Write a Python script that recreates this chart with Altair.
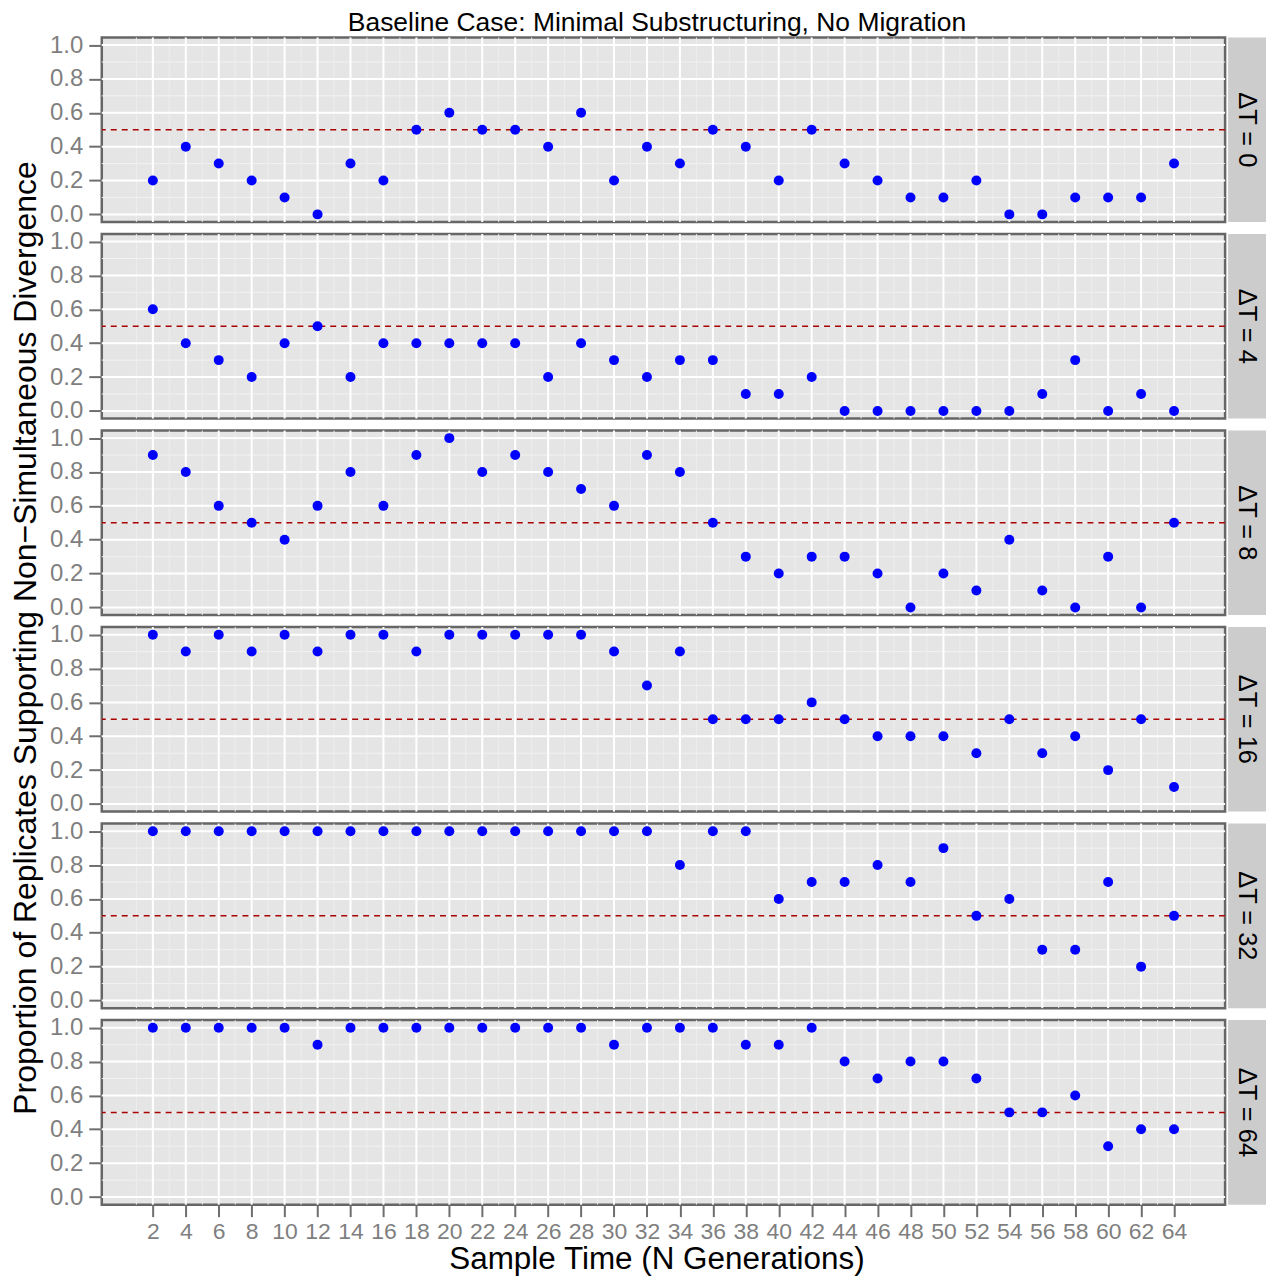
import altair as alt
import pandas as pd

# ---------------- data ----------------
sample_times = list(range(2, 66, 2))
delta_t = [0, 4, 8, 16, 32, 64]

prop_dt0 = [0.2, 0.4, 0.3, 0.2, 0.1, 0.0, 0.3, 0.2, 0.5, 0.6,
            0.5, 0.5, 0.4, 0.6, 0.2, 0.4, 0.3, 0.5, 0.4, 0.2,
            0.5, 0.3, 0.2, 0.1, 0.1, 0.2, 0.0, 0.0, 0.1, 0.1,
            0.1, 0.3]
prop_dt4 = [0.6, 0.4, 0.3, 0.2, 0.4, 0.5, 0.2, 0.4, 0.4, 0.4,
            0.4, 0.4, 0.2, 0.4, 0.3, 0.2, 0.3, 0.3, 0.1, 0.1,
            0.2, 0.0, 0.0, 0.0, 0.0, 0.0, 0.0, 0.1, 0.3, 0.0,
            0.1, 0.0]
prop_dt8 = [0.9, 0.8, 0.6, 0.5, 0.4, 0.6, 0.8, 0.6, 0.9, 1.0,
            0.8, 0.9, 0.8, 0.7, 0.6, 0.9, 0.8, 0.5, 0.3, 0.2,
            0.3, 0.3, 0.2, 0.0, 0.2, 0.1, 0.4, 0.1, 0.0, 0.3,
            0.0, 0.5]
prop_dt16 = [1.0, 0.9, 1.0, 0.9, 1.0, 0.9, 1.0, 1.0, 0.9, 1.0,
             1.0, 1.0, 1.0, 1.0, 0.9, 0.7, 0.9, 0.5, 0.5, 0.5,
             0.6, 0.5, 0.4, 0.4, 0.4, 0.3, 0.5, 0.3, 0.4, 0.2,
             0.5, 0.1]
prop_dt32 = [1.0, 1.0, 1.0, 1.0, 1.0, 1.0, 1.0, 1.0, 1.0, 1.0,
             1.0, 1.0, 1.0, 1.0, 1.0, 1.0, 0.8, 1.0, 1.0, 0.6,
             0.7, 0.7, 0.8, 0.7, 0.9, 0.5, 0.6, 0.3, 0.3, 0.7,
             0.2, 0.5]
prop_dt64 = [1.0, 1.0, 1.0, 1.0, 1.0, 0.9, 1.0, 1.0, 1.0, 1.0,
             1.0, 1.0, 1.0, 1.0, 0.9, 1.0, 1.0, 1.0, 0.9, 0.9,
             1.0, 0.8, 0.7, 0.8, 0.8, 0.7, 0.5, 0.5, 0.6, 0.3,
             0.4, 0.4]
series = [prop_dt0, prop_dt4, prop_dt8, prop_dt16, prop_dt32, prop_dt64]

y_major = [0.0, 0.2, 0.4, 0.6, 0.8, 1.0]
y_minor = [0.1, 0.3, 0.5, 0.7, 0.9]
x_minor = list(range(1, 67, 2))
threshold = [0.5]

title_text = "Baseline Case: Minimal Substructuring, No Migration"
x_title = "Sample Time (N Generations)"
y_title = "Proportion of Replicates Supporting Non\u2212Simultaneous Divergence"

# ---------------- style ----------------
FONT = "Liberation Sans"
PANEL_W, PANEL_H, STRIP_W = 1126, 185, 38
ROW_GAP = 0
TOTAL_H = 6 * PANEL_H + 5 * 11
X_DOMAIN = [-1.1, 67.1]
Y_DOMAIN = [-0.045, 1.045]
LABEL_GREY = "#7F7F7F"
TICK_GREY = "#6E6E6E"

xscale = alt.Scale(domain=X_DOMAIN, nice=False, zero=False)
yscale = alt.Scale(domain=Y_DOMAIN, nice=False, zero=False)

x_axis_bottom = alt.Axis(
    values=sample_times, title=x_title, grid=False, domain=False,
    labelFontSize=23, labelColor=LABEL_GREY, labelFont=FONT,
    labelPadding=4, labelOverlap=False, labelFlush=False, labelAngle=0,
    tickSize=12, tickWidth=2, tickColor=TICK_GREY,
    titleFontSize=31.5, titleFontWeight="normal", titleColor="black",
    titleFont=FONT, titlePadding=0, titleX=556,
)
y_axis = alt.Axis(
    values=y_major, format=".1f", title=None, grid=False, domain=False,
    labelFontSize=24, labelColor=LABEL_GREY, labelFont=FONT,
    labelPadding=6, labelFlush=False, labelOverlap=False,
    tickSize=13, tickWidth=2, tickColor=TICK_GREY,
)


def panel(i, bottom):
    df = pd.DataFrame({"t": sample_times, "p": series[i]})

    def X(field):
        if bottom:
            return alt.X(field, scale=xscale, axis=x_axis_bottom)
        return alt.X(field, scale=xscale, axis=None)

    def Y(field):
        return alt.Y(field, scale=yscale, axis=y_axis)

    h_minor = alt.Chart(pd.DataFrame({"y": y_minor})).mark_rule(
        color="#F2F2F2", strokeWidth=1
    ).encode(y=Y("y:Q"))
    v_minor = alt.Chart(pd.DataFrame({"x": x_minor})).mark_rule(
        color="#EEEEEE", strokeWidth=1
    ).encode(x=X("x:Q"))
    h_major = alt.Chart(pd.DataFrame({"y": y_major})).mark_rule(
        color="white", strokeWidth=2
    ).encode(y=Y("y:Q"))
    v_major = alt.Chart(pd.DataFrame({"x": sample_times})).mark_rule(
        color="white", strokeWidth=2
    ).encode(x=X("x:Q"))
    hline = alt.Chart(pd.DataFrame({"y": threshold})).mark_rule(
        color="#A80000", strokeWidth=1.5, strokeDash=[6, 5]
    ).encode(y=Y("y:Q"))
    pts = alt.Chart(df).mark_circle(
        color="#0000FF", size=100, opacity=1
    ).encode(x=X("t:Q"), y=Y("p:Q"))

    return alt.layer(h_minor, v_minor, h_major, v_major, hline, pts).properties(
        width=PANEL_W, height=PANEL_H
    )


def strip(i):
    lab = pd.DataFrame({"lab": ["\u0394T = %d" % delta_t[i]]})
    return alt.Chart(lab).mark_text(
        angle=90, fontSize=25.5, font=FONT, color="black",
        align="center", baseline="middle",
    ).encode(
        text="lab:N", x=alt.value(STRIP_W / 2), y=alt.value(PANEL_H / 2)
    ).properties(
        width=STRIP_W, height=PANEL_H,
        view=alt.ViewBackground(fill="#CCCCCC", stroke="transparent", strokeWidth=0),
    )


ytitle = alt.Chart(pd.DataFrame({"lab": [y_title]})).mark_text(
    angle=270, fontSize=32, font=FONT, color="black",
    align="center", baseline="middle",
).encode(
    text="lab:N", x=alt.value(18), y=alt.value(602)
).properties(
    width=36, height=TOTAL_H,
    view=alt.ViewBackground(fill="transparent", stroke="transparent", strokeWidth=0),
)

rows = [
    alt.hconcat(panel(i, i == 5), strip(i), spacing=0)
    for i in range(6)
]
body = alt.vconcat(*rows, spacing=ROW_GAP)

chart = alt.hconcat(
    ytitle, body, spacing=4,
    title=alt.TitleParams(
        text=title_text, fontSize=26.5, fontWeight="normal", font=FONT,
        color="black", anchor="middle", dx=20, offset=-5,
    ),
).properties(
    padding=0,
).configure(
    font=FONT,
).configure_view(
    fill="#E5E5E5", stroke="#666666", strokeWidth=2.5,
)

chart.save("out.html", embed_options={"renderer": "svg", "actions": False})
